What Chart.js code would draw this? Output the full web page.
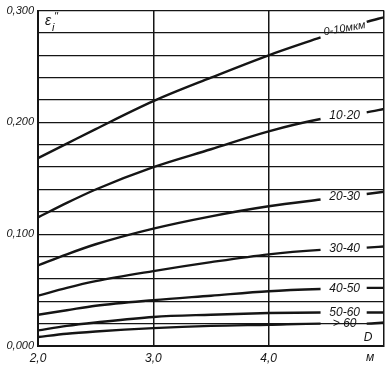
<!DOCTYPE html>
<html>
<head>
<meta charset="utf-8">
<script src="https://cdn.jsdelivr.net/npm/chart.js@4/dist/chart.umd.min.js"></script>
<style>
  html, body { margin: 0; padding: 0; background: #fff; }
  .wrap { width: 392px; height: 368px; }
</style>
</head>
<body>
<div class="wrap"><canvas id="epsChart"></canvas></div>
<script>
// wavelength, m
const lambda = [2.0, 2.25, 2.5, 3.0, 3.5, 4.0, 4.45, 4.85, 5.0];
// particle size groups
const sizeGroups = ['0-10мкм', '10·20', '20-30', '30-40', '40-50', '50-60', '> 60'];
// eps'' for each size group
const eps0to10 = [0.168, 0.181, 0.194, 0.219, 0.240, 0.260, 0.276, 0.290, 0.294];
const eps10to20 = [0.115, 0.128, 0.140, 0.160, 0.176, 0.192, 0.203, 0.209, 0.212];
const eps20to30 = [0.072, 0.082, 0.091, 0.105, 0.116, 0.125, 0.131, 0.136, 0.138];
const eps30to40 = [0.045, 0.052, 0.058, 0.067, 0.075, 0.082, 0.086, 0.088, 0.089];
const eps40to50 = [0.028, 0.032, 0.036, 0.041, 0.045, 0.049, 0.051, 0.052, 0.052];
const eps50to60 = [0.014, 0.018, 0.021, 0.026, 0.028, 0.0295, 0.030, 0.030, 0.030];
const epsOver60 = [0.008, 0.011, 0.013, 0.016, 0.018, 0.019, 0.020, 0.020, 0.021];
const yLabelled = [0, 0.1, 0.2, 0.3];
const xLabelled = [2, 3, 4];
// curve is interrupted here for its label
const gapFrom = 4.45;
const gapTo = 4.85;

const allSeries = [eps0to10, eps10to20, eps20to30, eps30to40, eps40to50, eps50to60, epsOver60];
const INK = '#151515';
const FONT = "'Liberation Sans Narrow', 'Liberation Sans', sans-serif";

const datasets = allSeries.map((vals, i) => ({
    label: sizeGroups[i],
    data: lambda.map((x, k) => ({ x: x, y: vals[k] })),
    borderColor: INK,
    borderWidth: 2.4,
    pointRadius: 0,
    cubicInterpolationMode: 'monotone',
    segment: {
        borderColor: ctx => (ctx.p0.parsed.x >= gapFrom - 1e-9 && ctx.p1.parsed.x <= gapTo + 1e-9) ? 'transparent' : INK
    }
}));

const curveLabels = {
    id: 'curveLabels',
    afterDatasetsDraw(chart) {
        const { ctx, scales: { x, y } } = chart;
        const i0 = lambda.indexOf(gapFrom);
        const i1 = lambda.indexOf(gapTo);
        ctx.save();
        ctx.fillStyle = INK;
        ctx.textAlign = 'center';
        ctx.textBaseline = 'middle';
        allSeries.forEach((vals, i) => {
            const px = x.getPixelForValue((gapFrom + gapTo) / 2);
            const py = y.getPixelForValue((vals[i0] + vals[i1]) / 2);
            ctx.save();
            if (i === 0) {
                ctx.font = 'italic 11px ' + FONT;
                ctx.translate(px + 1, py - 1);
                ctx.rotate(-0.17);
            } else {
                ctx.font = 'italic 12px ' + FONT;
                ctx.translate(px + 1, py);
            }
            ctx.fillText(sizeGroups[i], 0, 0);
            ctx.restore();
        });

        // axis title and units
        ctx.font = 'italic 14px ' + FONT;
        ctx.textAlign = 'left';
        ctx.fillText('ε', x.left + 7, y.top + 11);
        ctx.font = 'italic 11px ' + FONT;
        ctx.fillText('i', x.left + 14, y.top + 17);
        ctx.fillText('"', x.left + 16, y.top + 6);
        ctx.font = 'italic 12px ' + FONT;
        ctx.textAlign = 'center';
        ctx.fillText('D', x.right - 16, y.bottom - 8);
        ctx.fillText('м', x.right - 14, y.bottom + 12);
        ctx.restore();
    }
};

new Chart(document.getElementById('epsChart'), {
    type: 'line',
    data: { datasets: datasets },
    options: {
        responsive: true,
        maintainAspectRatio: false,
        animation: false,
        layout: { padding: { top: 8, right: 8, left: 0, bottom: 0 } },
        plugins: {
            legend: { display: false },
            tooltip: { enabled: false }
        },
        scales: {
            x: {
                type: 'linear',
                min: 2,
                max: 5,
                afterFit: s => { s.height = 22; },
                border: { color: INK, width: 2 },
                grid: { color: INK, lineWidth: 1.5, drawTicks: false },
                ticks: {
                    stepSize: 1,
                    padding: 5,
                    color: INK,
                    font: { family: FONT, size: 12, style: 'italic' },
                    callback: v => xLabelled.includes(v) ? v.toFixed(1).replace('.', ',') : ''
                }
            },
            y: {
                min: 0,
                max: 0.3,
                afterFit: s => { s.width = 38; },
                border: { color: INK, width: 2 },
                grid: { color: INK, lineWidth: 1.3, drawTicks: false },
                ticks: {
                    stepSize: 0.02,
                    padding: 4,
                    autoSkip: false,
                    color: INK,
                    font: { family: FONT, size: 11, style: 'italic' },
                    callback: v => yLabelled.some(t => Math.abs(t - v) < 1e-6) ? v.toFixed(3).replace('.', ',') : ''
                }
            }
        }
    },
    plugins: [curveLabels]
});
</script>
</body>
</html>
